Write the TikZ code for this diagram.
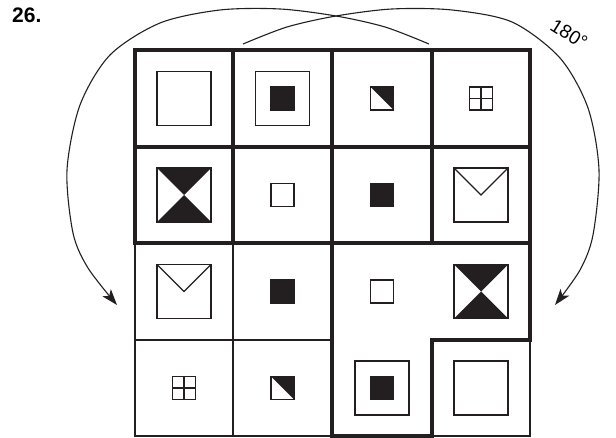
\documentclass[tikz,border=0pt]{standalone}
\usepackage{fontspec}
\setmainfont{Liberation Sans}
\usetikzlibrary{arrows.meta}
\definecolor{ink}{HTML}{231F20}
\begin{document}
\begin{tikzpicture}[x=1pt,y=-1pt,
  thinline/.style={draw=ink, line width=1.2pt},
  thickline/.style={draw=ink, line width=4pt, line cap=rect, line join=miter},
  symline/.style={draw=ink, line width=1.2pt},
  box/.style={rectangle, draw=ink, line width=1.2pt, inner sep=0pt, outer sep=0pt, fill=white},
  bigsq/.style={box, minimum size=54pt},
  smallsq/.style={box, minimum size=23pt},
  blacksq/.style={box, minimum size=23pt, fill=ink},
  turnarrow/.style={draw=ink, line width=1.1pt, -{Stealth[length=16pt,width=11pt,inset=4pt]}}
]
\useasboundingbox (0,0) rectangle (616,438);
% grid points
\foreach \i/\x in {0/135,1/233,2/332,3/432,4/530}
  \foreach \j/\y in {0/50,1/147,2/243,3/340,4/436}
    \coordinate (g\i\j) at (\x,\y);
% thin grid lines
\draw[thinline] (g02) -- (g04) -- (g24);
\draw[thinline] (g12) -- (g14);
\draw[thinline] (g03) -- (g23);
\draw[thinline] (g33) -- (g43) -- (g44) -- (g34);
% thick outlines
\draw[thickline] (g00) rectangle (g42);
\draw[thickline] (g10) -- (g12) (g20) -- (g22) (g30) -- (g32) (g01) -- (g41);
\draw[thickline] (g22) -- (g24) -- (g34) -- (g33) -- (g43) -- (g42);
% row 1
\node[bigsq] (a1) at (184,98.5) {};
\node[bigsq] (a2) at (282.5,98.5) {};
\node[blacksq] (a2i) at (a2) {};
\node[smallsq] (a3) at (382,98.5) {};
\fill[ink] (a3.north west) -- (a3.north east) -- (a3.south east) -- cycle;
\node[smallsq] (a4) at (481,98.5) {};
\draw[symline] (a4.north) -- (a4.south) (a4.west) -- (a4.east);
% row 2
\node[bigsq] (b1) at (184,195) {};
\fill[ink] (b1.north west) -- (b1.north east) -- (b1.center) -- cycle
           (b1.south west) -- (b1.south east) -- (b1.center) -- cycle;
\node[smallsq] (b2) at (282.5,195) {};
\node[blacksq] (b3) at (382,195) {};
\node[bigsq] (b4) at (481,195) {};
\draw[symline] (b4.north west) -- (b4.center) -- (b4.north east);
% row 3
\node[bigsq] (c1) at (184,291.5) {};
\draw[symline] (c1.north west) -- (c1.center) -- (c1.north east);
\node[blacksq] (c2) at (282.5,291.5) {};
\node[smallsq] (c3) at (382,291.5) {};
\node[bigsq] (c4) at (481,291.5) {};
\fill[ink] (c4.north west) -- (c4.north east) -- (c4.center) -- cycle
           (c4.south west) -- (c4.south east) -- (c4.center) -- cycle;
% row 4
\node[smallsq] (d1) at (184,388) {};
\draw[symline] (d1.north) -- (d1.south) (d1.west) -- (d1.east);
\node[smallsq] (d2) at (282.5,388) {};
\fill[ink] (d2.north west) -- (d2.north east) -- (d2.south east) -- cycle;
\node[bigsq] (d3) at (382,388) {};
\node[blacksq] (d3i) at (d3) {};
\node[bigsq] (d4) at (481,388) {};
% labels
\node[font=\bfseries\fontsize{21}{21}\selectfont, anchor=base west, inner sep=0pt] (num) at (12,23) {26.};
\node[font=\fontsize{19}{19}\selectfont, rotate=-32, inner sep=0pt] (deg) at (569,34) {180°};
% arcs
\coordinate (ls) at (429,44);
\coordinate (lt) at (117,305);
\coordinate (rs) at (243,44);
\coordinate (rt) at (555,305);
\draw[turnarrow] plot[smooth] coordinates {(ls) (385,27) (336,16) (280,9) (220,10) (160,23) (110,55) (80,105) (67,170) (73,233) (88,268) (lt)};
\draw[turnarrow] plot[smooth] coordinates {(rs) (287,27) (336,16) (392,9) (452,10) (512,22) (560,58) (588,108) (599,170) (593,235) (580,270) (rt)};
\end{tikzpicture}
\end{document}
